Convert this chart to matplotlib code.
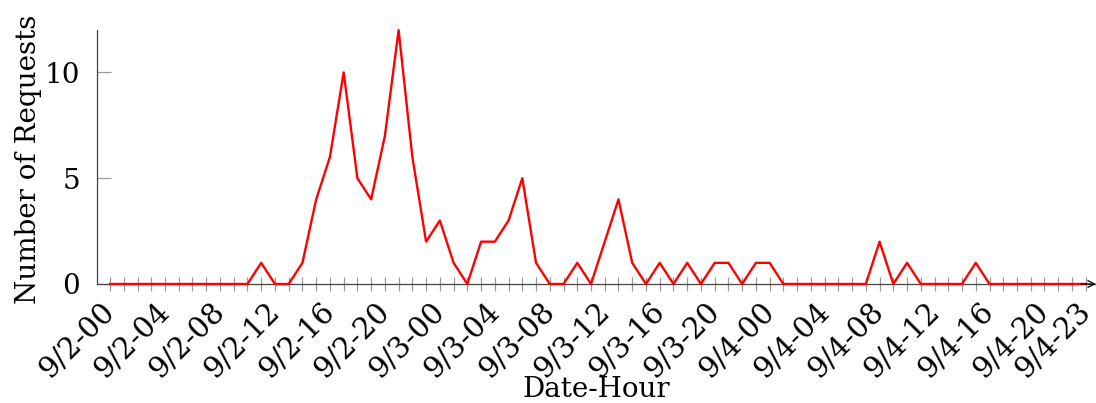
import matplotlib
matplotlib.use("Agg")
import matplotlib.pyplot as plt

# Hourly request counts from 9/2 00:00 to 9/4 23:00
hours = list(range(72))
requests = [
    0, 0, 0, 0, 0, 0, 0, 0, 0, 0, 0, 1, 0, 0, 1, 4, 6, 10, 5, 4, 7, 12, 6, 2,
    3, 1, 0, 2, 2, 3, 5, 1, 0, 0, 1, 0, 2, 4, 1, 0, 1, 0, 1, 0, 1, 1, 0, 1,
    1, 0, 0, 0, 0, 0, 0, 0, 2, 0, 1, 0, 0, 0, 0, 1, 0, 0, 0, 0, 0, 0, 0, 0,
]
tick_hours = [0, 4, 8, 12, 16, 20, 24, 28, 32, 36, 40, 44, 48, 52, 56, 60, 64, 68, 71]
tick_labels = [
    "9/2-00", "9/2-04", "9/2-08", "9/2-12", "9/2-16", "9/2-20",
    "9/3-00", "9/3-04", "9/3-08", "9/3-12", "9/3-16", "9/3-20",
    "9/4-00", "9/4-04", "9/4-08", "9/4-12", "9/4-16", "9/4-20", "9/4-23",
]
y_ticks = [0, 5, 10]

plt.rcParams["font.family"] = ["DejaVu Serif"]

fig = plt.figure(figsize=(10.96, 4.03), dpi=100)
ax = fig.add_axes([0.0885, 0.2953, 0.9115, 0.630])

ax.plot(hours, requests, color="#ff0000", lw=1.7, zorder=3, clip_on=False)

ax.set_xlim(-0.95, 71.75)
ax.set_ylim(0, 12)

for side in ("top", "right"):
    ax.spines[side].set_visible(False)
for side in ("left", "bottom"):
    ax.spines[side].set_color("#444444")
    ax.spines[side].set_linewidth(0.9)

# arrow head at the right end of the x axis
ax.annotate("", xy=(1.0, 0), xycoords="axes fraction",
            xytext=(0.985, 0), textcoords="axes fraction",
            arrowprops=dict(arrowstyle="->", color="black", lw=0.9,
                            mutation_scale=12, shrinkA=0, shrinkB=0))

ax.set_xticks(hours, minor=True)
ax.set_xticks(tick_hours)
ax.set_xticklabels(tick_labels, rotation=45, ha="right", va="center",
                   rotation_mode="anchor", fontsize=21)
ax.tick_params(axis="x", which="both", direction="inout", length=10,
               width=0.9, color="#999999", pad=12)
ax.set_yticks(y_ticks)
ax.set_yticklabels([str(v) for v in y_ticks], fontsize=20)
ax.tick_params(axis="y", direction="in", length=10, width=0.9,
               color="#999999", pad=12)

fig.text(596 / 1096, 1 - 397 / 403, "Date-Hour", fontsize=20,
         ha="center", va="baseline")
fig.text(36 / 1096, 1 - 159 / 403, "Number of Requests", fontsize=20,
         rotation=90, rotation_mode="anchor", ha="center", va="baseline")

fig.savefig("out.png", dpi=100)
